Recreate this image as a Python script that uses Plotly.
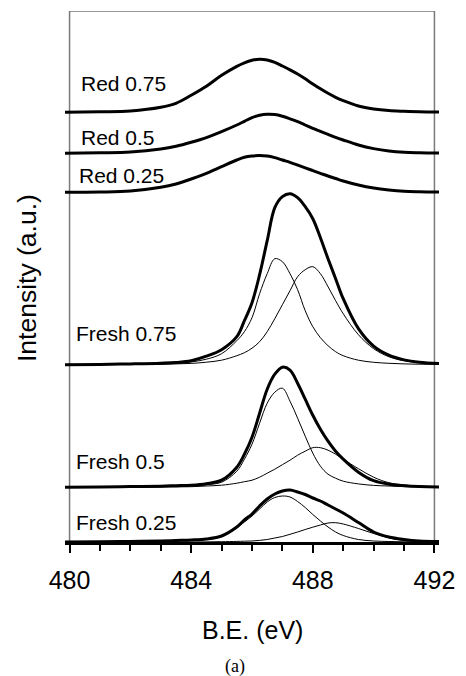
import plotly.graph_objects as go

# Binding energy grid (eV) shared by every spectrum
be = [479.85, 481, 482, 483, 483.5, 484, 484.5, 485, 485.5, 485.75, 486, 486.25,
      486.5, 486.75, 487, 487.25, 487.5, 487.75, 488, 488.25, 488.5, 488.75,
      489, 489.5, 490, 490.5, 491, 491.5, 492.15]

# Reduced samples: measured envelopes (a.u.)
red_075 = [0, 0.5, 1.3, 5, 9, 17, 26, 37, 46, 49.5, 52, 53, 52.3, 50, 46.3, 42.5,
           38.3, 33.5, 28.3, 23.5, 19, 15, 11.7, 6.3, 3.3, 1.7, 1, 0.5, 0.2]
red_050 = [0, 0.5, 1.3, 4.3, 7, 11, 15.7, 21.7, 28.3, 32, 35.7, 38, 39, 38.7, 37,
           34.5, 31.7, 28.3, 25, 22, 19, 16, 13.3, 8.3, 4.7, 2.3, 1, 0.5, 0.2]
red_025 = [0, 0.3, 1.3, 5, 8.3, 13.3, 19, 25.7, 32.3, 35, 36.3, 36.7, 36.3, 34.7,
           32.3, 30, 27.3, 24.5, 21.7, 19, 16.3, 13.8, 11.3, 7.3, 4.3, 2.3, 1, 0.5, 0.2]

# Fresh samples: envelope and the two fitted components (a.u.)
fresh_075_env = [0, 0.3, 0.8, 1.5, 2.2, 4, 8.5, 15, 28, 44, 62, 90, 124, 157, 168,
                 171, 167, 158, 146, 127, 106, 86, 66, 36, 18.5, 9.5, 4.8, 2.4, 1.2]
fresh_075_c1 = [0, 0.2, 0.5, 0.8, 1.4, 2.8, 5.5, 11, 24, 33, 47, 71, 91, 106, 103,
                91, 75, 54, 38, 27, 19, 13, 9, 4.5, 2.4, 1.4, 0.8, 0.5, 0.3]
fresh_075_c2 = [0, 0.1, 0.2, 0.4, 0.8, 1.3, 2.5, 4.5, 9, 12, 16.5, 23, 33, 46, 60,
                74, 88, 95, 98, 91, 78, 64, 51, 30, 16, 8, 4, 2.1, 1.1]

fresh_050_env = [0, 0.3, 0.6, 1, 1.5, 2, 3.5, 7, 20, 33, 50, 74, 98, 113, 120, 117,
                 104, 88, 72, 58, 46, 36, 28, 15, 6.5, 3, 1.5, 0.7, 0.3]
fresh_050_c1 = [0, 0.2, 0.3, 0.5, 1, 1.5, 2.5, 5, 16, 28, 43, 64, 84, 95, 99, 86,
                69, 51, 34, 21, 13, 9, 6, 3.3, 1.8, 1.2, 0.7, 0.5, 0.3]
fresh_050_c2 = [0, 0, 0.1, 0.2, 0.3, 0.5, 1.2, 2, 4, 5.5, 7, 10, 14, 18, 22.5, 27,
                32, 36, 39.5, 39.5, 37, 33, 28, 18.5, 10, 4.5, 2.3, 1, 0.5]

fresh_025_env = [0, 0.2, 0.5, 1, 1.5, 2, 3, 6, 15, 22, 28, 36, 43, 48, 51, 52, 50,
                 47.5, 44, 41, 37, 33, 29, 19.5, 10, 5, 2.5, 1, 0.4]
fresh_025_c1 = [0, 0.1, 0.3, 0.7, 1, 1.5, 2.5, 5.5, 14, 20, 26, 33, 40, 44.5, 46,
                45, 40.5, 34.5, 27.5, 21, 15, 10, 6.5, 2.5, 1, 0.5, 0.2, 0.1, 0.1]
fresh_025_c2 = [0, 0, 0, 0, 0, 0, 0.1, 0.3, 0.6, 0.8, 1, 1.6, 2.5, 4, 5.5, 7.7, 10,
                12.5, 14.8, 17, 19, 19.3, 18, 13.5, 8.5, 4.2, 1.5, 0.5, 0.2]

sample_names = ["Red 0.75", "Red 0.5", "Red 0.25", "Fresh 0.75", "Fresh 0.5", "Fresh 0.25"]
envelopes = [red_075, red_050, red_025, fresh_075_env, fresh_050_env, fresh_025_env]
components = [[], [], [],
              [fresh_075_c1, fresh_075_c2],
              [fresh_050_c1, fresh_050_c2],
              [fresh_025_c1, fresh_025_c2]]

# Vertical stacking of the spectra and label placement (layout only)
stack_offset = [429.7, 388.7, 349.7, 177.3, 54.8, 0.0]
label_pos = [(480.31, 459), (480.31, 404.5), (480.25, 367),
             (480.14, 208.3), (480.14, 81), (480.14, 20)]

FONT = "Liberation Sans, Arial, sans-serif"

fig = go.Figure()

# thin fitted components underneath
for comps, off in zip(components, stack_offset):
    for comp in comps:
        fig.add_trace(go.Scatter(
            x=be, y=[v + off for v in comp], mode="lines",
            line=dict(color="black", width=1, shape="spline", smoothing=1.0),
            hoverinfo="skip"))

# thick envelopes on top
for name, env, off in zip(sample_names, envelopes, stack_offset):
    fig.add_trace(go.Scatter(
        x=be, y=[v + off for v in env], mode="lines", name=name,
        line=dict(color="black", width=3, shape="spline", smoothing=1.0)))

annotations = []
for name, (lx, ly) in zip(sample_names, label_pos):
    annotations.append(dict(x=lx, y=ly, xref="x", yref="y", text=name,
                            showarrow=False, xanchor="left", yanchor="middle",
                            font=dict(family=FONT, size=21, color="black")))

annotations.append(dict(x=0.5, y=-0.1657, xref="paper", yref="paper",
                        text="B.E. (eV)", showarrow=False,
                        xanchor="center", yanchor="middle",
                        font=dict(family=FONT, size=25, color="black")))
annotations.append(dict(x=-0.1018, y=0.497, xref="paper", yref="paper",
                        text="Intensity (a.u.)", showarrow=False, textangle=-90,
                        xanchor="center", yanchor="middle",
                        font=dict(family=FONT, size=26.5, color="black")))
annotations.append(dict(x=0.4543, y=-0.2348, xref="paper", yref="paper",
                        text="(a)", showarrow=False,
                        xanchor="center", yanchor="middle",
                        font=dict(family="Liberation Serif, Times New Roman, serif",
                                  size=18, color="black")))

frame = dict(color="#7a7a7a", width=1.5)
shapes = [
    dict(type="line", xref="x", yref="y", x0=480, x1=480, y0=0, y1=531, line=frame, layer="below"),
    dict(type="line", xref="x", yref="y", x0=492, x1=492, y0=0, y1=531, line=frame, layer="below"),
    dict(type="line", xref="x", yref="y", x0=480, x1=492, y0=531, y1=531, line=frame, layer="below"),
]

fig.update_layout(
    width=466, height=676,
    margin=dict(l=65, r=18, t=11, b=134),
    paper_bgcolor="white", plot_bgcolor="white",
    showlegend=False,
    annotations=annotations,
    shapes=shapes,
    xaxis=dict(
        range=[479.85, 492.15],
        tickvals=[480, 484, 488, 492],
        ticktext=["480", "484", "488", "492"],
        ticks="outside", ticklen=8, tickwidth=2, tickcolor="black",
        ticklabelstandoff=6,
        showline=True, linecolor="black", linewidth=2.5,
        showgrid=False, zeroline=False,
        tickfont=dict(family=FONT, size=25, color="black"),
        minor=dict(tickvals=[481, 482, 483, 485, 486, 487, 489, 490, 491],
                   ticks="outside", ticklen=6, tickwidth=2, tickcolor="black",
                   showgrid=False),
    ),
    yaxis=dict(range=[0, 531], visible=False),
)

fig.write_html("out.html")
